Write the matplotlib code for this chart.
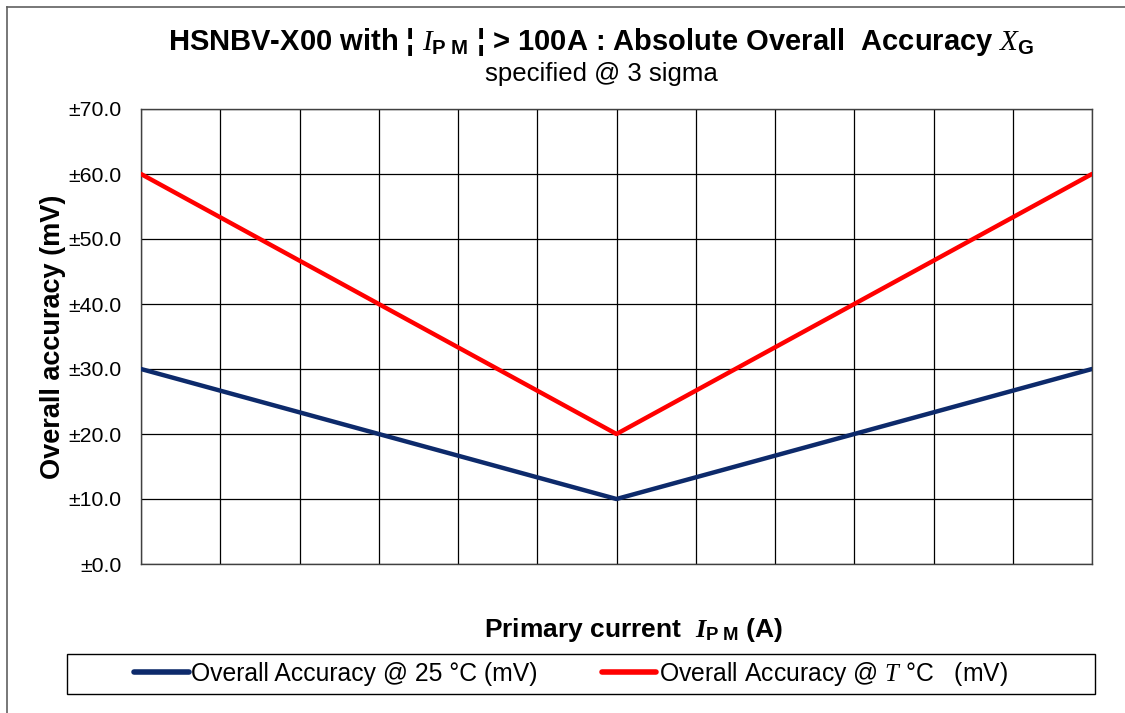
import matplotlib
matplotlib.use('Agg')
import matplotlib.pyplot as plt
from matplotlib.lines import Line2D
from matplotlib.patches import Rectangle

plt.rcParams['font.family'] = 'Liberation Sans'
plt.rcParams['mathtext.fontset'] = 'custom'
plt.rcParams['mathtext.rm'] = 'Liberation Sans'
plt.rcParams['mathtext.it'] = 'Liberation Serif:italic'
plt.rcParams['mathtext.bf'] = 'Liberation Sans:bold'
plt.rcParams['mathtext.bfit'] = 'Liberation Serif:italic:bold'

# data (x in grid columns, no labels on the axis)
current = [0, 6, 12]
acc_25 = [30, 10, 30]
acc_T = [60, 20, 60]
yticks = [0, 10, 20, 30, 40, 50, 60, 70]

navy = '#0d2a6b'
red = '#ff0000'

W, H = 1125, 713
fig = plt.figure(figsize=(W/100, H/100), dpi=100)
ax = fig.add_axes([141/W, 1-564/H, (1092-141)/W, (564-109)/H])

ax.plot(current, acc_25, color=navy, lw=3.2, solid_capstyle='round', zorder=3,
        label='Overall Accuracy @ 25 °C (mV)')
ax.plot(current, acc_T, color=red, lw=3.2, solid_capstyle='round', zorder=3,
        label=r'Overall Accuracy @ $\mathit{T}$ °C   (mV)')

ax.set_xlim(0, 12)
ax.set_ylim(0, 70)
ax.set_xticks(range(0, 13))
ax.set_xticklabels([])
ax.set_yticks(yticks)
ax.set_yticklabels(['±%.1f' % v for v in yticks], fontsize=15.3)
ax.tick_params(length=0, pad=14)
ax.grid(True, color='black', lw=0.9)
ax.set_axisbelow(True)
for s in ax.spines.values():
  s.set_color('#404040')
  s.set_linewidth(1.0)

ax.set_ylabel('Overall accuracy (mV)', fontsize=19.5, fontweight='bold', labelpad=2)

fig.text(601/W, 1-42/H,
         r'HSNBV-X00 with ¦ $\mathit{I}_{\mathbf{P\ M}}$ ¦ > 100A : Absolute Overall  Accuracy $\mathit{X}_{\mathbf{G}}$',
         ha='center', va='center', fontsize=21, fontweight='bold')
fig.text(601/W, 1-74/H, 'specified @ 3 sigma', ha='center', va='center', fontsize=18.5)
fig.text(633/W, 1-630/H, r'Primary current  $\mathbfit{I}_{\mathbf{P\ M}}$ (A)',
         ha='center', va='center', fontsize=19, fontweight='bold')

# legend box
fig.patches.append(Rectangle((67/W, 1-694/H), (1095-67)/W, 40/H, transform=fig.transFigure,
                             fill=False, ec='black', lw=1.0))
handles = [Line2D([0], [0], color=navy, lw=4, solid_capstyle='round'),
           Line2D([0], [0], color=red, lw=4, solid_capstyle='round')]
labels = [l.get_label() for l in ax.get_lines()]
fig.legend(handles, labels, loc='center', bbox_to_anchor=(571/W, 1-674/H), ncol=2,
           frameon=False, fontsize=17.8, handlelength=2.2, handletextpad=0.1, columnspacing=2.6)

# outer chart border
fig.add_artist(Line2D([7/W, 7/W], [0, 1-7/H], transform=fig.transFigure, color='#606060', lw=1.2))
fig.add_artist(Line2D([7/W, 1], [1-7/H, 1-7/H], transform=fig.transFigure, color='#606060', lw=1.2))

fig.savefig('out.png', dpi=100)
